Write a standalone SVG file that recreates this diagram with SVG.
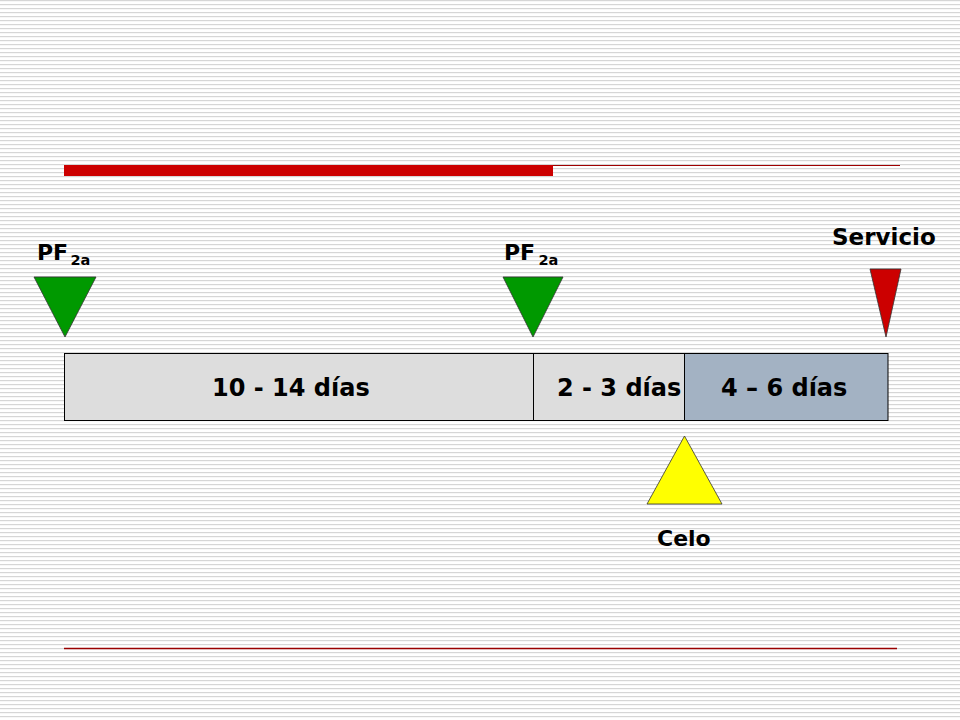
<svg xmlns="http://www.w3.org/2000/svg" width="960" height="720" viewBox="0 0 960 720">
  <defs>
    <pattern id="stripes" x="0" y="0" width="960" height="4" patternUnits="userSpaceOnUse">
      <rect x="0" y="0" width="960" height="1.2" fill="#d6d6d6"/>
    </pattern>
    <style>
      .lbl { font-family: "DejaVu Sans", Verdana, sans-serif; font-weight: bold; fill: #000; }
      .cell { stroke: #000; stroke-width: 1; }
      .tri { stroke: #333; stroke-width: 0.8; stroke-linejoin: miter; }
    </style>
  </defs>
  <rect width="960" height="720" fill="#ffffff"/>
  <rect width="960" height="720" fill="url(#stripes)"/>

  <g id="decor">
    <line x1="64" y1="165.5" x2="900" y2="165.5" stroke="#a00000" stroke-width="1.2"/>
    <rect x="64" y="165" width="489" height="11" fill="#cc0000"/>
    <line x1="64" y1="648.5" x2="897" y2="648.5" stroke="#990000" stroke-width="1.5"/>
  </g>

  <g id="bar">
    <rect class="cell" x="64.5" y="353.5" width="469" height="67" fill="#dddddd"/>
    <rect class="cell" x="533.5" y="353.5" width="151" height="67" fill="#dddddd"/>
    <rect class="cell" x="684.5" y="353.5" width="203.5" height="67" fill="#a3b2c3"/>
    <text class="lbl" x="212" y="396" font-size="24">10 - 14 días</text>
    <text class="lbl" x="557" y="396" font-size="24">2 - 3 días</text>
    <text class="lbl" x="721" y="396" font-size="24">4 – 6 días</text>
  </g>

  <g id="pf1">
    <polygon class="tri" points="34,277 96,277 65,337" fill="#009900"/>
    <text class="lbl" x="37" y="260" font-size="22">PF</text>
    <text class="lbl" x="70.5" y="264.5" font-size="14.5">2a</text>
  </g>

  <g id="pf2">
    <polygon class="tri" points="503,277 563,277 533,337" fill="#009900"/>
    <text class="lbl" x="504" y="260" font-size="22">PF</text>
    <text class="lbl" x="538.5" y="264.5" font-size="14.5">2a</text>
  </g>

  <g id="servicio">
    <polygon class="tri" points="870,269 901,269 886,337" fill="#cc0000"/>
    <text class="lbl" x="832" y="245" font-size="23">Servicio</text>
  </g>

  <g id="celo">
    <polygon class="tri" points="684.5,436 647,504 722,504" fill="#ffff00"/>
    <text class="lbl" x="657" y="546" font-size="22">Celo</text>
  </g>

  <g id="connectors"></g>
</svg>
